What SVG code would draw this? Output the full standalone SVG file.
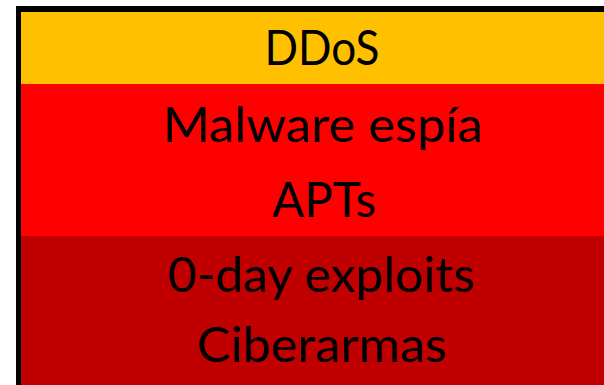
<svg xmlns="http://www.w3.org/2000/svg" width="604" height="385" viewBox="0 0 604 385">
<style>
.t{font-family:Lato,"Liberation Sans",sans-serif;font-size:48px;fill:#000;text-anchor:middle}
</style>
<rect x="0" y="0" width="604" height="385" fill="#fff"/>
<g id="frame"><rect x="16" y="6" width="588" height="379" fill="#000"/></g>
<g id="ddos"><rect x="21" y="12" width="583" height="72" fill="#FFC000"/>
<text class="t" x="322" y="65" textLength="115" lengthAdjust="spacingAndGlyphs">DDoS</text></g>
<g id="red"><rect x="21" y="84" width="583" height="152" fill="#FF0000"/>
<text class="t" x="323" y="142" textLength="320" lengthAdjust="spacingAndGlyphs">Malware espía</text>
<text class="t" x="324" y="217" textLength="104" lengthAdjust="spacingAndGlyphs">APTs</text></g>
<g id="darkred"><rect x="21" y="236" width="583" height="149" fill="#C00000"/>
<text class="t" x="321.5" y="292" textLength="307" lengthAdjust="spacingAndGlyphs">0-day exploits</text>
<text class="t" x="322" y="362" textLength="250" lengthAdjust="spacingAndGlyphs">Ciberarmas</text></g>
</svg>
